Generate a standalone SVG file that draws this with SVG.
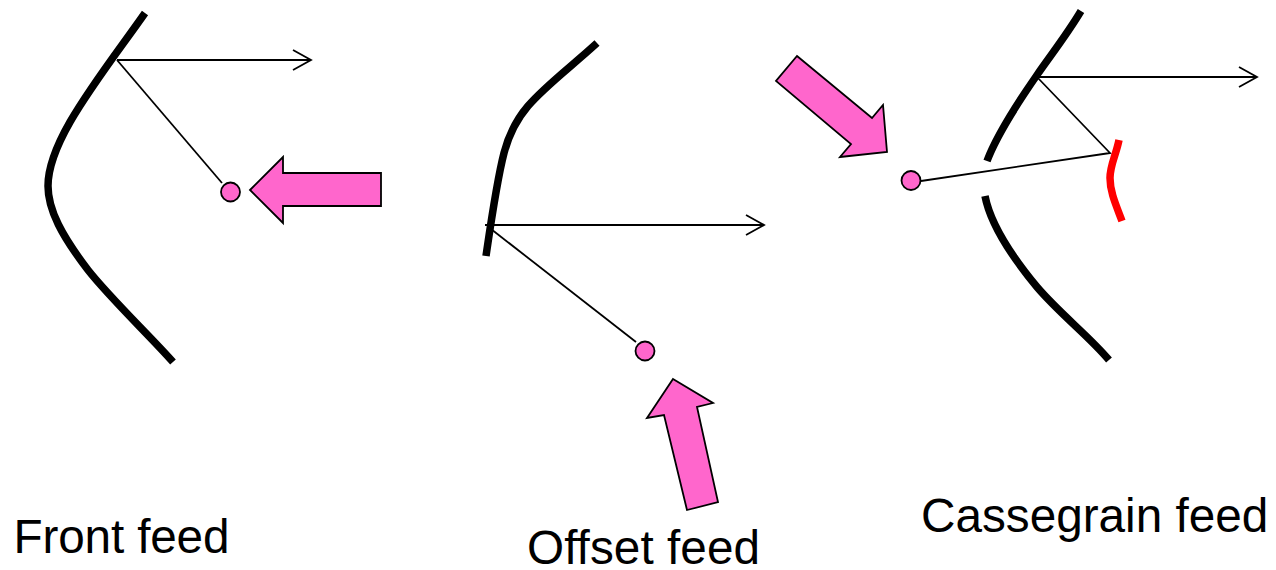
<svg xmlns="http://www.w3.org/2000/svg" width="1276" height="570" viewBox="0 0 1276 570">
<style>
.dish{fill:none;stroke:#000;stroke-width:7.500}
.sub{fill:none;stroke:#f00;stroke-width:7.500}
.ray{fill:none;stroke:#000;stroke-width:1.800}
.feed{fill:#f6c;stroke:#000;stroke-width:1.800}
.pa{fill:#f6c;stroke:#000;stroke-width:1.800;stroke-linejoin:miter}
.t{font-family:"Liberation Sans",Arial,sans-serif;font-size:47.700px;fill:#000}
</style>
<rect width="1276" height="570" fill="#fff"/>
<g id="connectors">
<path class="ray" d="M117 60H311M293 50L311 60L293 70"/>
<path class="ray" d="M117 60L222 183"/>
<path class="ray" d="M485 225H764M746 215L764 225L746 235"/>
<path class="ray" d="M491 229L636 342"/>
<path class="ray" d="M1037 77H1257M1239 67L1257 77L1239 87"/>
<path class="ray" d="M1037 77L1110 153L921 181"/>
</g>
<g id="front-feed">
<path class="dish" d="M145 13C122 46 92 84 70 122C54 150 48 170 48 186C48 210 62 236 88 270C110 298 150 336 173 362"/>
<circle class="feed" cx="230.500" cy="192" r="9.500"/>
<polygon class="pa" points="250,190 283,157 283,173 381,173 381,206 283,206 283,223"/>
<text class="t" x="13.500" y="553" textLength="216">Front feed</text>
</g>
<g id="offset-feed">
<path class="dish" d="M597 43C572 66 545 86 528 106C516 120 509 134 504 153C497 180 492 215 486 256"/>
<circle class="feed" cx="645" cy="351" r="9.500"/>
<polygon class="pa" points="673,379 713,403 697,407 718,502 687,510 664,415 647,418"/>
<text class="t" x="527" y="563.500" textLength="233">Offset feed</text>
</g>
<g id="cassegrain-feed">
<path class="dish" d="M1081 11C1066 36 1050 56 1037 75C1012 111 996 137 987 161"/>
<path class="dish" d="M985 196C990 222 1008 252 1037 287C1060 314 1090 337 1109 360"/>
<path class="sub" d="M1119 140C1116 155 1110 165 1110 178C1110 192 1116 205 1122 221"/>
<circle class="feed" cx="911" cy="180.500" r="9.500"/>
<polygon class="pa" points="797,56 872,118 883,105 887,152 840,157 851,144 776,81"/>
<text class="t" x="921" y="532">Cassegrain feed</text>
</g>
</svg>
